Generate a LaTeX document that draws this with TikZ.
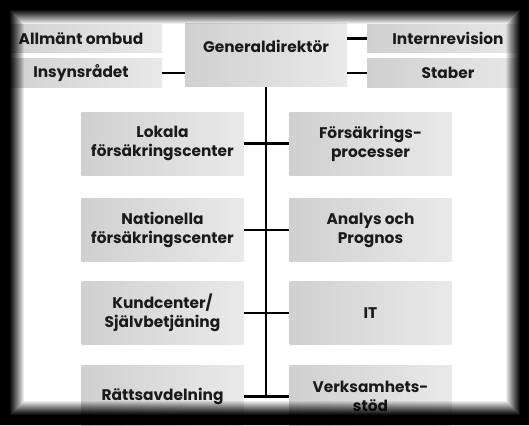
\documentclass[tikz,border=0pt]{standalone}
\usepackage{fontspec}
\setmainfont{Poppins}
\definecolor{boxdark}{RGB}{208, 208, 208}
\definecolor{boxlight}{RGB}{233, 233, 233}
\definecolor{inktext}{RGB}{26, 26, 26}
\usepackage{tikz}
\usetikzlibrary{positioning, calc}
\tikzset{
    unitbox/.style={rectangle, left color=boxdark, right color=boxlight, draw=none,
                    minimum width=162pt, minimum height=63pt, align=center,
                    text=inktext, font=\fontsize{15.4}{19}\selectfont\bfseries},
    sidebox/.style={unitbox, minimum height=28.5pt},
    link/.style={line width=2.6pt, black},
}
\begin{document}
\begin{tikzpicture}[x=1pt, y=-1pt]
            \useasboundingbox (0,0) rectangle (529,425);
            \fill[white] (0,0) rectangle (529,425);
            % top row
            \node[unitbox, text depth=18pt] (gd) at (266,55.5) {Generaldirektör};
            \node[sidebox] (ombud) at (81,38.5) {Allmänt ombud};
            \node[sidebox] (insyn) at (81,73) {Insynsrådet};
            \node[sidebox] (intern) at (448,38.5) {Internrevision};
            \node[sidebox] (staber) at (448,73) {Staber};
            % units
            \node[unitbox] (lokala) at (162.5,143.5) {Lokala\\försäkringscenter};
            \node[unitbox] (forsak) at (370.5,143.5) {Försäkrings-\\processer};
            \node[unitbox] (nation) at (162.5,230) {Nationella\\försäkringscenter};
            \node[unitbox] (analys) at (370.5,230) {Analys och\\Prognos};
            \node[unitbox] (kund) at (162.5,313) {Kundcenter/\\Självbetjäning};
            \node[unitbox] (it) at (370.5,313) {IT};
            \node[unitbox] (ratt) at (162.5,396.5) {Rättsavdelning};
            \node[unitbox] (verk) at (370.5,396.5) {Verksamhets-\\stöd};
            \draw[link] (insyn.east) -- (insyn.east -| gd.west);
            \draw[link] (gd.east |- intern.west) -- (intern.west);
            \draw[link] (gd.east |- staber.west) -- (staber.west);
            \draw[link] (gd.south) -- (gd.south |- ratt.east);
            \draw[link] (lokala.east) -- (forsak.west);
            \draw[link] (nation.east) -- (analys.west);
            \draw[link] (kund.east) -- (it.west);
            \draw[link] (ratt.east) -- (verk.west);
            % dark frame
            \fill[black, even odd rule] (0,0) rectangle (529,425) (10,10) rectangle (520,415);
            \foreach \i in {0,...,13}
                \fill[black, opacity={1-(\i+1)/15}, even odd rule] (10+\i,10+\i) rectangle (520-\i,415-\i)
                    (11+\i,11+\i) rectangle (519-\i,414-\i);
        \end{tikzpicture}
\end{document}
